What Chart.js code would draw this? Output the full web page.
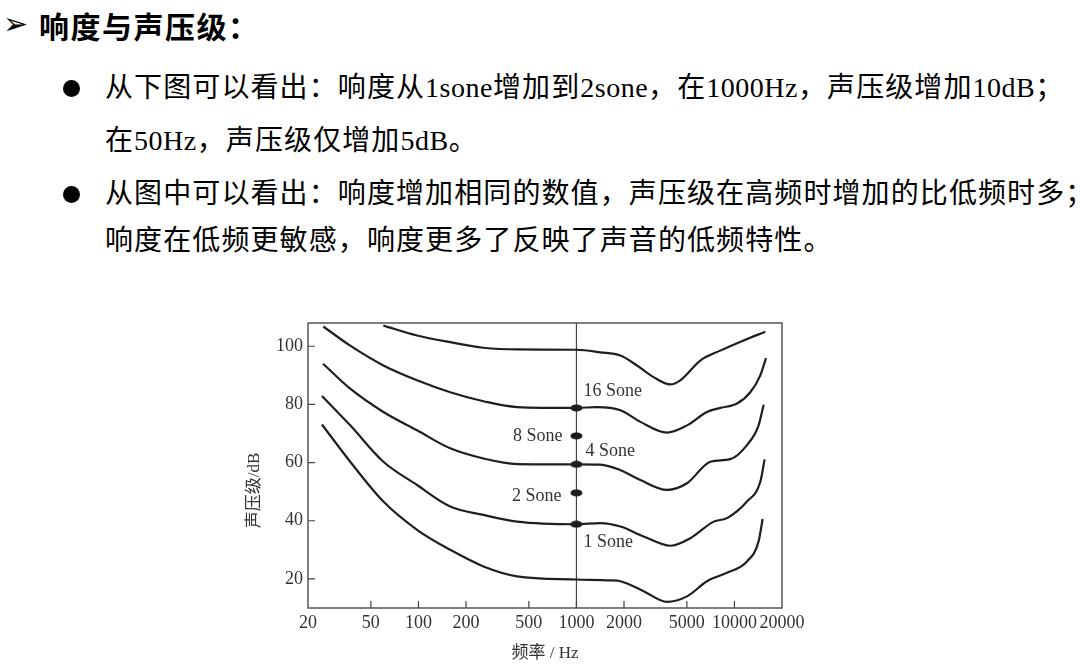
<!DOCTYPE html>
<html>
<head>
<meta charset="utf-8">
<script src="https://cdn.jsdelivr.net/npm/chart.js@4.4.1/dist/chart.umd.min.js"></script>
<style>
  body {
    margin: 0;
    width: 1080px;
    height: 665px;
    background: #fff;
    position: relative;
    overflow: hidden;
    font-family: "Liberation Serif", "Noto Sans CJK SC", serif;
    color: #000;
  }
  .arrow {
    position: absolute;
    left: 3px;
    top: 4px;
    font-family: "DejaVu Sans";
    font-size: 30px;
    line-height: 40px;
  }
  .head {
    position: absolute;
    left: 39px;
    top: 5px;
    height: 40px;
    line-height: 40px;
    white-space: nowrap;
    font-family: "Noto Sans CJK SC";
    font-weight: bold;
    font-size: 30px;
    letter-spacing: 1.5px;
  }
  .line {
    position: absolute;
    left: 105px;
    height: 40px;
    line-height: 40px;
    font-size: 28px;
    letter-spacing: 1.1px;
    white-space: nowrap;
  }
  .line i { font-style: normal; letter-spacing: 0.5px; }
  .dot {
    position: absolute;
    left: 63px;
    width: 17px;
    height: 17px;
    border-radius: 50%;
    background: #000;
  }
  #wrap {
    position: absolute;
    left: 240px;
    top: 300px;
    width: 580px;
    height: 365px;
  }
</style>
</head>
<body>

<div class="arrow">➢</div>
<div class="head">响度与声压级：</div>

<div class="dot" style="top:80px"></div>
<div class="line" style="top:68px">从下图可以看出：响度从<i>1sone</i>增加到<i>2sone</i>，在<i>1000Hz</i>，声压级增加<i>10dB</i>；</div>
<div class="line" style="top:121px">在<i>50Hz</i>，声压级仅增加<i>5dB</i>。</div>
<div class="dot" style="top:186px"></div>
<div class="line" style="top:174px">从图中可以看出：响度增加相同的数值，声压级在高频时增加的比低频时多；</div>
<div class="line" style="top:221px">响度在低频更敏感，响度更多了反映了声音的低频特性。</div>

<div id="wrap"><canvas id="loudnessChart"></canvas></div>

<script>
// frequency (Hz) / sound pressure level (dB)
const freq100 = [60, 98, 159, 258, 421, 1000, 1416, 1896, 2417, 3079, 3928, 4542, 6081, 8136, 11425, 15680];
const db100 = [107.1, 103.7, 101.4, 99.5, 98.9, 98.8, 97.9, 96.8, 93.4, 89.4, 86.9, 88.3, 95.1, 98.5, 102.0, 105.0];

const freq80 = [25, 37, 60, 98, 159, 258, 421, 1000, 1350, 1900, 2540, 3740, 5010, 6700, 8140, 10380, 12600, 14580, 15840];
const db80 = [106.8, 100.2, 93.4, 88.3, 84.2, 81.1, 79.1, 78.8, 79.1, 78.0, 74.0, 70.3, 72.8, 77.4, 78.8, 80.3, 84.2, 90.0, 95.9];

const freq60 = [24.9, 37, 60, 98, 159, 258, 421, 1000, 1416, 1900, 2540, 3740, 5010, 7040, 9420, 12000, 14220, 15310];
const db60 = [94.0, 85.4, 77.4, 71.1, 64.9, 61.4, 59.5, 59.4, 59.3, 57.4, 54.0, 50.6, 52.9, 60.3, 61.2, 66.0, 72.8, 79.9];

const freq40 = [24.5, 37, 60, 98, 159, 258, 421, 1000, 1416, 1900, 2660, 3930, 5260, 7390, 8970, 12000, 14580, 15520];
const db40 = [82.9, 72.8, 60.3, 52.3, 44.9, 42.0, 39.7, 38.8, 39.2, 38.0, 34.6, 31.4, 34.0, 39.7, 40.9, 46.6, 53.4, 61.1];

const freq20 = [24.5, 37, 60, 98, 159, 258, 421, 1000, 1640, 1900, 2660, 3740, 5010, 6700, 8970, 12000, 14220, 15080];
const db20 = [73.1, 60.3, 46.6, 36.9, 30.0, 24.3, 20.9, 19.8, 19.5, 19.2, 15.8, 12.1, 14.0, 19.2, 22.1, 26.0, 32.9, 40.6];

// sone marks on the 1000 Hz line
const soneLabels = ["16 Sone", "8 Sone", "4 Sone", "2 Sone", "1 Sone"];
const soneDb = [78.8, 69.2, 59.4, 49.6, 38.8];

const xTicks = [20, 50, 100, 200, 500, 1000, 2000, 5000, 10000, 20000];
const yTicks = [20, 40, 60, 80, 100];

const curves = [
  [freq100, db100],
  [freq80, db80],
  [freq60, db60],
  [freq40, db40],
  [freq20, db20],
];

// little flat ellipse for the dots
const dotImg = document.createElement("canvas");
dotImg.width = 13;
dotImg.height = 8;
const dctx = dotImg.getContext("2d");
dctx.fillStyle = "#1a1a1a";
dctx.beginPath();
dctx.ellipse(6.5, 4, 6, 3.6, 0, 0, Math.PI * 2);
dctx.fill();

const serif = "'Liberation Serif', 'Noto Sans CJK SC', serif";

// label offsets from the dot: [dx, dy, align]
const labelPos = [
  [7, -17, "left"],
  [-14, 0, "right"],
  [9, -13, "left"],
  [-15, 3, "right"],
  [7, 18, "left"],
];

const extras = {
  id: "extras",
  beforeDatasetsDraw(chart) {
    const { ctx, chartArea: a, scales } = chart;
    ctx.save();
    // frame
    ctx.strokeStyle = "#555";
    ctx.lineWidth = 1.5;
    ctx.strokeRect(a.left, a.top, a.right - a.left, a.bottom - a.top);
    // 1000 Hz line
    const x1k = scales.x.getPixelForValue(1000);
    ctx.lineWidth = 1.2;
    ctx.strokeStyle = "#444";
    ctx.beginPath();
    ctx.moveTo(x1k, a.top);
    ctx.lineTo(x1k, a.bottom);
    ctx.stroke();
    // inward tick marks
    ctx.beginPath();
    xTicks.slice(1, -1).forEach((v) => {
      const px = scales.x.getPixelForValue(v);
      ctx.moveTo(px, a.bottom);
      ctx.lineTo(px, a.bottom - 7);
    });
    yTicks.forEach((v) => {
      const py = scales.y.getPixelForValue(v);
      ctx.moveTo(a.left, py);
      ctx.lineTo(a.left + 7, py);
    });
    ctx.stroke();
    ctx.restore();
  },
  afterDatasetsDraw(chart) {
    const { ctx, chartArea: a, scales } = chart;
    const x1k = scales.x.getPixelForValue(1000);
    ctx.save();
    ctx.fillStyle = "#333";
    ctx.font = "18px " + serif;
    ctx.textBaseline = "middle";
    soneLabels.forEach((t, i) => {
      const [dx, dy, al] = labelPos[i];
      ctx.textAlign = al;
      ctx.fillText(t, x1k + dx, scales.y.getPixelForValue(soneDb[i]) + dy);
    });
    // y axis title, a bit below the middle like the original
    ctx.font = "17px " + serif;
    ctx.textAlign = "center";
    ctx.translate(15, (a.top + a.bottom) / 2 + 25);
    ctx.rotate(-Math.PI / 2);
    ctx.fillText("声压级/dB", 0, 0);
    ctx.restore();
  },
};

const datasets = curves.map(([fs, dbs]) => ({
  data: fs.map((f, i) => ({ x: f, y: dbs[i] })),
  borderColor: "#1f1f1f",
  borderWidth: 2.2,
  pointRadius: 0,
  fill: false,
  cubicInterpolationMode: "monotone",
}));

datasets.push({
  data: soneDb.map((v) => ({ x: 1000, y: v })),
  showLine: false,
  pointStyle: dotImg,
  pointRadius: 5,
});

new Chart(document.getElementById("loudnessChart"), {
  type: "line",
  data: { datasets },
  options: {
    responsive: true,
    maintainAspectRatio: false,
    animation: false,
    layout: { padding: { top: 23, right: 38, left: 0, bottom: 0 } },
    plugins: {
      legend: { display: false },
      tooltip: { enabled: false },
    },
    scales: {
      x: {
        type: "logarithmic",
        min: 20,
        max: 20000,
        border: { display: false },
        grid: { drawOnChartArea: false, drawTicks: false, display: true, color: "rgba(0,0,0,0)" },
        afterBuildTicks: (scale) => {
          scale.ticks = xTicks.map((v) => ({ value: v }));
        },
        afterFit: (scale) => {
          scale.height = 57;
        },
        ticks: {
          autoSkip: false,
          maxRotation: 0,
          padding: 4,
          color: "#333",
          font: { family: serif, size: 18 },
          callback: (v) => String(v),
        },
        title: {
          display: true,
          text: "频率 / Hz",
          color: "#333",
          font: { family: serif, size: 17 },
          padding: { top: 0, bottom: 1 },
        },
      },
      y: {
        type: "linear",
        min: 10,
        max: 108,
        border: { display: false },
        grid: { drawOnChartArea: false, drawTicks: false, display: true, color: "rgba(0,0,0,0)" },
        afterBuildTicks: (scale) => {
          scale.ticks = yTicks.map((v) => ({ value: v }));
        },
        afterFit: (scale) => {
          scale.width = 68;
        },
        ticks: {
          padding: 5,
          color: "#333",
          font: { family: serif, size: 18 },
        },
      },
    },
  },
  plugins: [extras],
});
</script>
</body>
</html>
